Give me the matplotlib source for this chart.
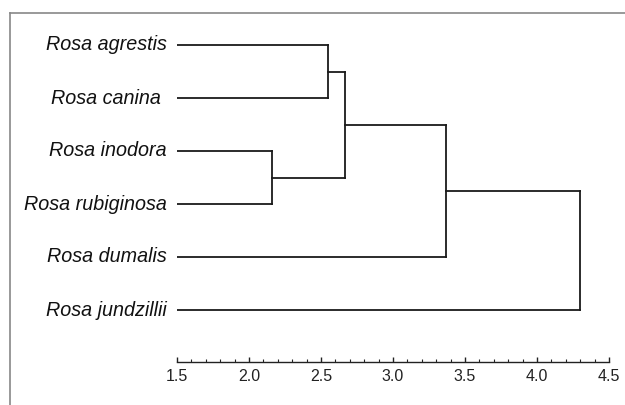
import matplotlib.pyplot as plt
from matplotlib.lines import Line2D

plt.rcParams['font.family'] = ['Liberation Sans', 'DejaVu Sans']

# leaves, top to bottom
labels = ['Rosa agrestis', 'Rosa canina ', 'Rosa inodora', 'Rosa rubiginosa',
          'Rosa dumalis', 'Rosa jundzillii']
# merges: (child a, child b, height); new clusters numbered from len(labels)
merge_a = [0, 2, 6, 8, 9]
merge_b = [1, 3, 7, 4, 5]
merge_h = [2.55, 2.16, 2.67, 3.37, 4.30]
leaf_h = 1.5

xticks = [1.5, 2.0, 2.5, 3.0, 3.5, 4.0, 4.5]

W, H = 625, 405
fig = plt.figure(figsize=(W / 100, H / 100), dpi=100)
ax = fig.add_axes([177 / W, 1 - 362 / H, 432 / W, (362 - 13) / H])

# node positions
ypos = list(range(len(labels)))
hpos = [leaf_h] * len(labels)
lc = '#1a1a1a'
for a, b, h in zip(merge_a, merge_b, merge_h):
    for c in (a, b):
        ax.plot([hpos[c], h], [ypos[c], ypos[c]], color=lc, lw=1.3, solid_capstyle='projecting')
    ax.plot([h, h], [ypos[a], ypos[b]], color=lc, lw=1.3, solid_capstyle='projecting')
    ypos.append((ypos[a] + ypos[b]) / 2)
    hpos.append(h)

for i, lab in enumerate(labels):
    ax.annotate(lab, (leaf_h, i), xytext=(-7.5, 0), textcoords='offset points',
                ha='right', va='center', fontsize=14.2, style='italic', color='#111111')

ax.set_xlim(1.5, 4.5)
ax.set_ylim((362 - 45) / 53, (13 - 45) / 53)
ax.set_xticks(xticks)
ax.set_xticklabels([f'{t:.1f}' for t in xticks])
ax.set_xticks([1.5 + 0.1 * k for k in range(31)], minor=True)
ax.set_yticks([])
for s in ('left', 'right', 'top'):
    ax.spines[s].set_visible(False)
ax.spines['bottom'].set_color('#222222')
ax.spines['bottom'].set_linewidth(1.0)
ax.tick_params(axis='x', which='major', direction='in', length=3.5, width=1,
               labelsize=11.5, pad=5, colors='#222222')
ax.tick_params(axis='x', which='minor', direction='in', length=2, width=0.8,
               colors='#222222')
ax.patch.set_visible(False)

# outer frame lines (top and left)
fig.add_artist(Line2D([10 / W, 1], [1 - 13 / H, 1 - 13 / H], color='#888888', lw=1.2,
                      transform=fig.transFigure))
fig.add_artist(Line2D([10 / W, 10 / W], [0, 1 - 13 / H], color='#888888', lw=1.2,
                      transform=fig.transFigure))

fig.savefig('out.png', dpi=100)
